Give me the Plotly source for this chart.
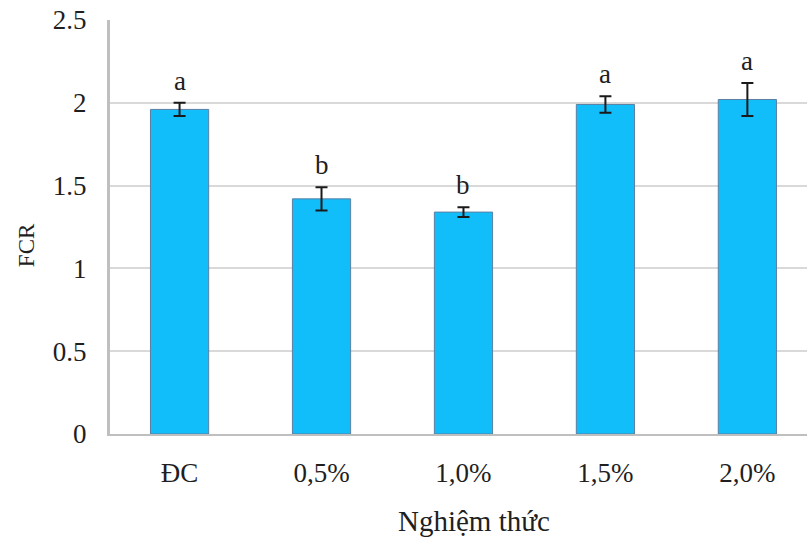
import plotly.graph_objects as go

# FCR by treatment level, with standard deviation and significance letters
treatments = ["ĐC", "0,5%", "1,0%", "1,5%", "2,0%"]
fcr = [1.96, 1.42, 1.34, 1.99, 2.02]
fcr_sd = [0.04, 0.07, 0.03, 0.05, 0.10]
letters = ["a", "b", "b", "a", "a"]

FONT = "Liberation Serif"
TEXT_COLOR = "#1f1f1f"

fig = go.Figure()
fig.add_trace(go.Bar(
    x=treatments,
    y=fcr,
    marker=dict(color="#12BEFA", line=dict(color="#5B7FA3", width=1)),
    error_y=dict(type="data", array=fcr_sd, visible=True,
                 color="#1a1a1a", thickness=2, width=6),
    showlegend=False,
))

# significance letters above each error bar
for t, v, e, s in zip(treatments, fcr, fcr_sd, letters):
    fig.add_annotation(x=t, y=v + e, text=s, showarrow=False,
                       yanchor="bottom", yshift=5,
                       font=dict(family=FONT, size=27, color=TEXT_COLOR))

# axis titles
fig.add_annotation(x=0.522, y=-0.21, xref="paper", yref="paper",
                   text="Nghiệm thức", showarrow=False,
                   xanchor="center", yanchor="middle",
                   font=dict(family=FONT, size=29, color=TEXT_COLOR))
fig.add_annotation(x=-0.12, y=0.457, xref="paper", yref="paper",
                   text="FCR", textangle=-90, showarrow=False,
                   xanchor="center", yanchor="middle",
                   font=dict(family=FONT, size=23, color=TEXT_COLOR))

fig.update_layout(
    width=807, height=538,
    margin=dict(l=110, r=0, t=20, b=104, autoexpand=False),
    paper_bgcolor="white", plot_bgcolor="white",
    bargap=0.59,
    font=dict(family=FONT, size=27, color=TEXT_COLOR),
)
fig.update_xaxes(
    range=[-0.49, 4.42], automargin=False,
    showline=True, linecolor="#BFBFBF", linewidth=2,
    ticks="", ticklabelstandoff=14,
    tickfont=dict(family=FONT, size=27, color=TEXT_COLOR),
)
fig.update_yaxes(
    range=[0, 2.5], dtick=0.5, automargin=False,
    showline=True, linecolor="#BFBFBF", linewidth=3,
    showgrid=True, gridcolor="#D9D9D9", gridwidth=2,
    zeroline=False, ticks="", ticklabelstandoff=15,
    tickfont=dict(family=FONT, size=27, color=TEXT_COLOR),
)

fig.write_html("out.html")
